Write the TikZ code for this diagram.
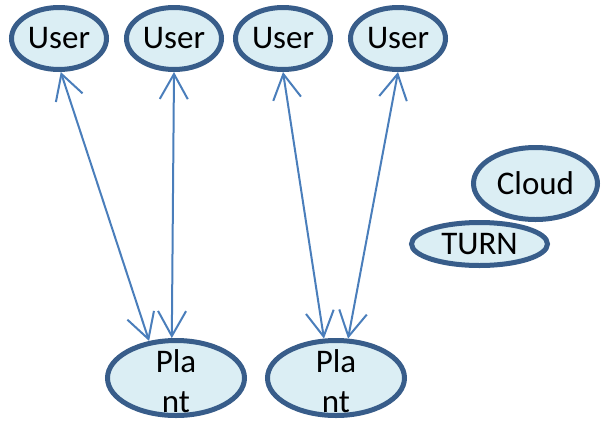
\documentclass[tikz,border=0pt]{standalone}
\usepackage{fontspec}
\setmainfont{Carlito}
\usetikzlibrary{shapes.geometric, arrows.meta}
\definecolor{bubblefill}{HTML}{DBEEF4}
\definecolor{bubbleline}{HTML}{385D8A}
\definecolor{linkblue}{HTML}{4A7EBB}
\tikzstyle{bubble} = [ellipse, inner sep=0pt, text centered, draw=bubbleline, line width=5pt, fill=bubblefill, font=\fontsize{33}{40}\selectfont]
\tikzstyle{user} = [bubble, minimum width=95pt, minimum height=62pt]
\tikzstyle{plant} = [bubble, minimum width=137pt, minimum height=75pt]
\tikzstyle{link} = [line width=2pt, draw=linkblue, {Straight Barb[length=25pt,width=28pt]}-{Straight Barb[length=25pt,width=28pt]}]
\newcommand{\twolines}[2]{\smash{\raisebox{-13pt}{\begin{tabular}{@{}c@{}}#1\\#2\end{tabular}}}}

\begin{document}
\begin{tikzpicture}[x=1pt, y=1pt, node distance=115pt]
\useasboundingbox (0,0) rectangle (608,-421);
\node (user1) [user] at (59,-38.5) {User};
\node (user2) [user, right of=user1] {User};
\node (user3) [user, right of=user2, xshift=-6pt] {User};
\node (user4) [user, right of=user3] {User};
\node (plant1) [plant] at (176,-378) {\twolines{Pla}{nt}};
\node (plant2) [plant, right of=plant1, xshift=45pt] {\twolines{Pla}{nt}};
\node (turn) [bubble, minimum width=136pt, minimum height=43pt] at (479.5,-244) {TURN};
\node (cloud) [bubble, minimum width=124pt, minimum height=72pt] at (535.5,-183.5) {Cloud};

\draw [link] (user1.-87) -- (plant1.126);
\draw [link] (user2.south) -- (plant1.96);
\draw [link] (user3.south) -- (plant2.107);
\draw [link] (user4.south) -- (plant2.73);

\end{tikzpicture}
\end{document}
